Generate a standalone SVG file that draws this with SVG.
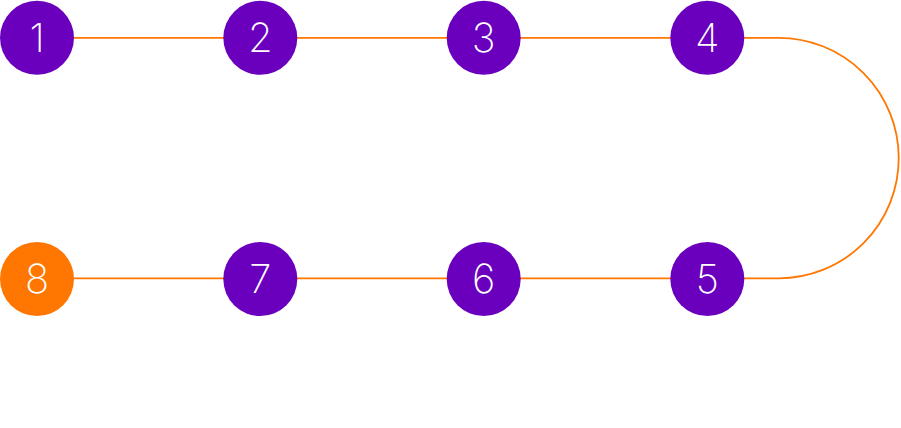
<svg xmlns="http://www.w3.org/2000/svg" width="901" height="428" viewBox="0 0 901 428">
<style>
.n{fill:#6A00BE}
.n8{fill:#FF7700}
.t{font-family:Inter,"Liberation Sans",sans-serif;font-weight:200;font-size:40px;fill:#fff;text-anchor:middle}
.c{stroke:#FF7700;stroke-width:1.8;fill:none}
</style>
<rect width="901" height="428" fill="#fff"/>
<g id="connectors">
<path class="c" d="M74 37.8H671M744 37.8H778.5A120.3 120.3 0 0 1 778.5 278.4H744M671 278.4H74"/>
</g>
<g id="node1"><circle class="n" cx="37" cy="37.8" r="37"/><text class="t" x="37" y="52">1</text></g>
<g id="node2"><circle class="n" cx="260.3" cy="37.8" r="37"/><text class="t" x="260.3" y="52">2</text></g>
<g id="node3"><circle class="n" cx="483.7" cy="37.8" r="37"/><text class="t" x="483.7" y="52">3</text></g>
<g id="node4"><circle class="n" cx="707.3" cy="37.8" r="37"/><text class="t" x="707.3" y="52">4</text></g>
<g id="node5"><circle class="n" cx="707.3" cy="279" r="37"/><text class="t" x="707.3" y="293.2">5</text></g>
<g id="node6"><circle class="n" cx="483.7" cy="279" r="37"/><text class="t" x="483.7" y="293.2">6</text></g>
<g id="node7"><circle class="n" cx="260.3" cy="279" r="37"/><text class="t" x="260.3" y="293.2">7</text></g>
<g id="node8"><circle class="n8" cx="37" cy="279" r="37"/><text class="t" x="37" y="293.2">8</text></g>
</svg>
